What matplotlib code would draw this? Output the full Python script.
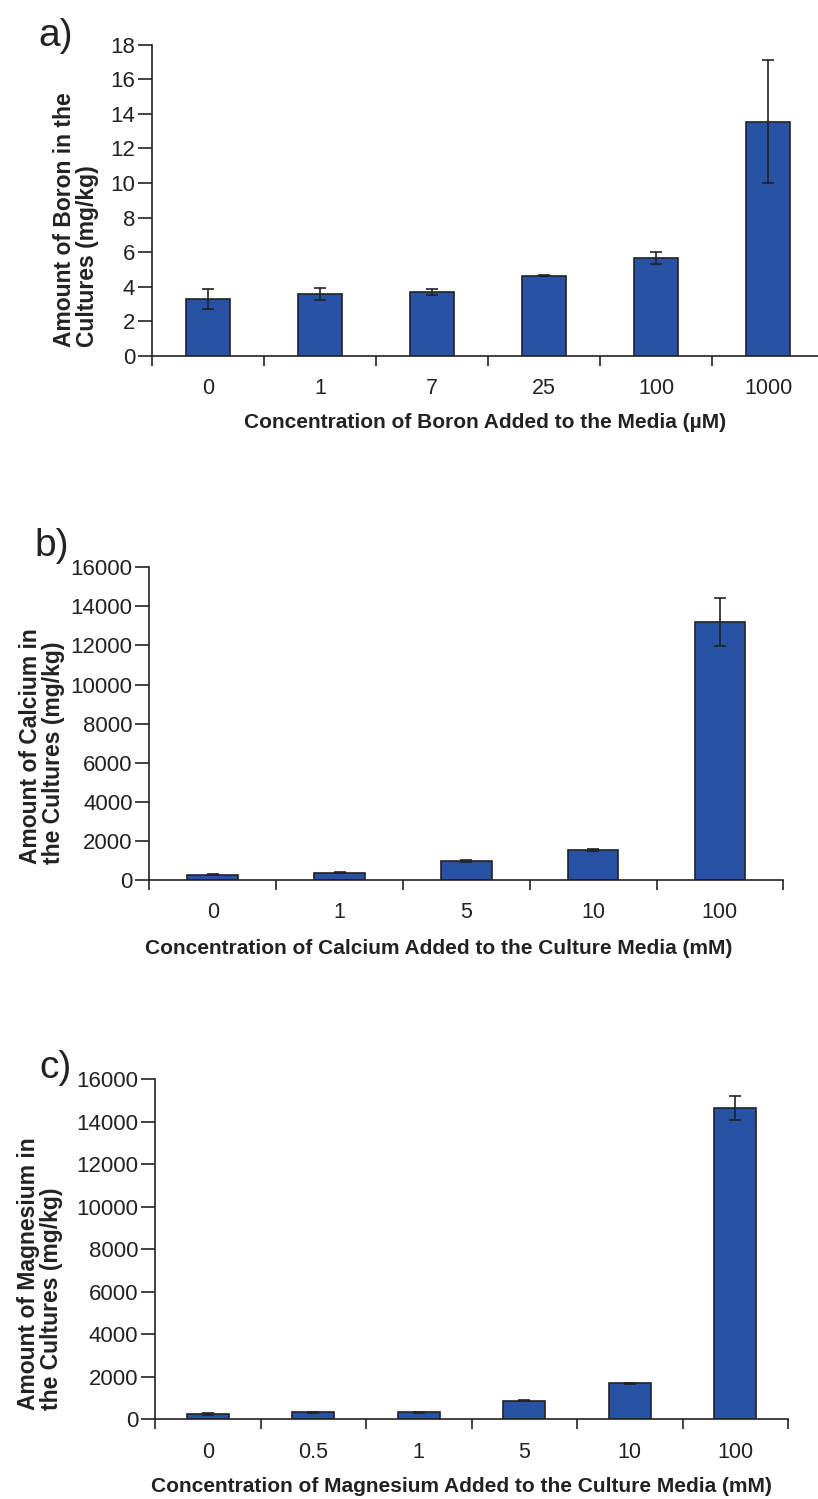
import numpy as np
import matplotlib
matplotlib.use("Agg")
import matplotlib.pyplot as plt

plt.rcParams["font.family"] = ["Liberation Sans", "DejaVu Sans"]

# Panel a: boron
boron_labels = ["0", "1", "7", "25", "100", "1000"]
boron_values = [3.3, 3.6, 3.7, 4.65, 5.65, 13.55]
boron_err = [0.6, 0.35, 0.2, 0.05, 0.35, 3.55]

# Panel b: calcium
calcium_labels = ["0", "1", "5", "10", "100"]
calcium_values = [280, 370, 980, 1520, 13200]
calcium_err = [30, 30, 60, 60, 1230]

# Panel c: magnesium
magnesium_labels = ["0", "0.5", "1", "5", "10", "100"]
magnesium_values = [250, 330, 330, 870, 1690, 14640]
magnesium_err = [40, 20, 20, 20, 20, 570]

BAR = "#2852a3"
INK = "#222222"
W, H = 818, 1499


def px(x, y):
    return x / W, 1 - y / H


def draw_panel(ax, labels, values, err, ymax, ystep):
    n = len(labels)
    x = np.arange(n)
    ax.bar(x, values, width=0.4, color=BAR, edgecolor=INK, linewidth=1.2, zorder=2)
    ax.errorbar(x, values, yerr=err, fmt="none", ecolor=INK, elinewidth=1.2,
                capsize=4.5, capthick=1.2, zorder=3)
    ax.set_xlim(-0.5, n - 0.5)
    ax.set_ylim(0, ymax)
    ax.set_yticks(np.arange(0, ymax + 1, ystep))
    ax.set_xticks(x)
    ax.set_xticklabels(labels)
    ax.set_xticks(np.arange(n + 1) - 0.5, minor=True)
    ax.tick_params(axis="x", which="major", length=0, pad=16, labelsize=15.5, colors=INK)
    ax.tick_params(axis="x", which="minor", length=7, width=1.2, color=INK)
    ax.tick_params(axis="y", length=10, width=1.2, pad=2, labelsize=16, colors=INK)
    for s in ["top", "right"]:
        ax.spines[s].set_visible(False)
    for s in ["left", "bottom"]:
        ax.spines[s].set_color(INK)
        ax.spines[s].set_linewidth(1.2)
    ax.spines["bottom"].set_bounds(-0.5, n - 0.5)


fig = plt.figure(figsize=(W / 100, H / 100), dpi=100)

ax_a = fig.add_axes([152 / W, 1 - 356 / H, 672 / W, 311.3 / H])
ax_b = fig.add_axes([149.3 / W, 1 - 880 / H, 634 / W, 312.7 / H])
ax_c = fig.add_axes([155 / W, 1 - 1419.3 / H, 633 / W, 340.3 / H])

draw_panel(ax_a, boron_labels, boron_values, boron_err, 18, 2)
draw_panel(ax_b, calcium_labels, calcium_values, calcium_err, 16000, 2000)
draw_panel(ax_c, magnesium_labels, magnesium_values, magnesium_err, 16000, 2000)

# panel letters
for letter, (lx, ly) in [("a)", (56, 36)), ("b)", (52, 546)), ("c)", (55, 1068))]:
    fig.text(*px(lx, ly), letter, fontsize=28, ha="center", va="center", color=INK)

# y labels
ylabels = [
    ("Amount of Boron in the\nCultures (mg/kg)", (76, 220)),
    ("Amount of Calcium in\nthe Cultures (mg/kg)", (42, 746)),
    ("Amount of Magnesium in\nthe Cultures (mg/kg)", (40, 1274)),
]
for text, (lx, ly) in ylabels:
    fig.text(*px(lx, ly), text, rotation=90, fontsize=16.5, fontweight="bold",
             ha="center", va="center", multialignment="left", color=INK,
             linespacing=1.0)

# x labels
xlabels = [
    ("Concentration of Boron Added to the Media (\u00b5M)", (485, 422)),
    ("Concentration of Calcium Added to the Culture Media (mM)", (439, 948)),
    ("Concentration of Magnesium Added to the Culture Media (mM)", (461, 1487)),
]
for text, (lx, ly) in xlabels:
    fig.text(*px(lx, ly), text, fontsize=15, fontweight="bold",
             ha="center", va="center", color=INK)

fig.savefig("out.png", dpi=100)
